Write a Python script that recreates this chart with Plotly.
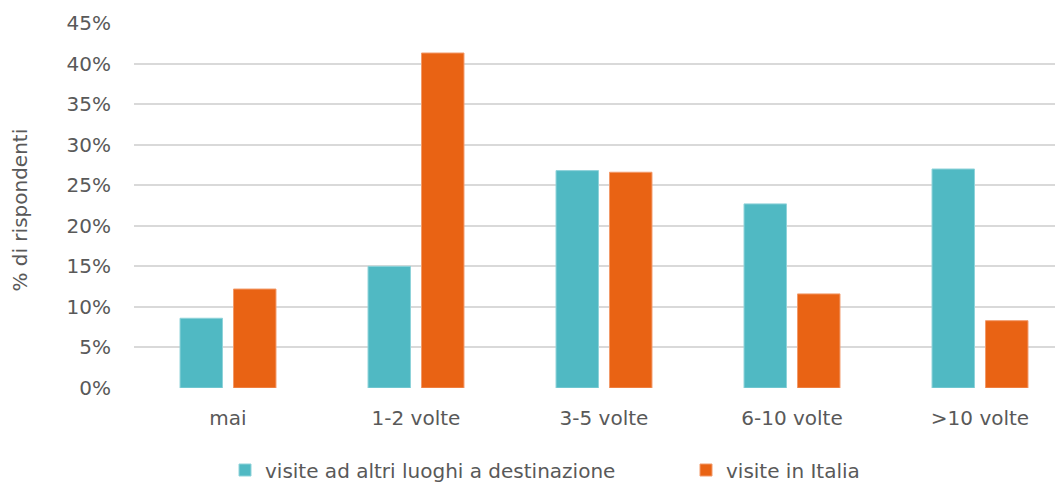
import plotly.graph_objects as go

categories = ["mai", "1-2 volte", "3-5 volte", "6-10 volte", ">10 volte"]
altri_luoghi = [8.6, 15.0, 26.8, 22.7, 27.0]
italia = [12.2, 41.3, 26.6, 11.6, 8.3]
series_names = ["visite ad altri luoghi a destinazione", "visite in Italia"]
y_ticks = [0, 5, 10, 15, 20, 25, 30, 35, 40, 45]
y_tick_labels = [f"{v}%" for v in y_ticks]

FONT = "DejaVu Sans"
TXT = "#595959"
FS = 20

fig = go.Figure()
fig.add_trace(go.Bar(x=categories, y=altri_luoghi, name=series_names[0], legend="legend",
                     marker=dict(color="#50B9C3", line=dict(color="#8FD3DA", width=1))))
fig.add_trace(go.Bar(x=categories, y=italia, name=series_names[1], legend="legend2",
                     marker=dict(color="#E96314", line=dict(color="#F29A6A", width=1))))

leg_common = dict(orientation="h", yref="container", xref="container", y=1 - 462 / 482,
                  xanchor="left", yanchor="middle", font=dict(size=FS, color=TXT),
                  bgcolor="rgba(0,0,0,0)", borderwidth=0)

fig.update_layout(
    width=1063, height=482,
    margin=dict(l=126, r=0, t=15, b=102, autoexpand=False),
    paper_bgcolor="white", plot_bgcolor="white",
    font=dict(family=FONT, color=TXT, size=FS),
    barmode="group", bargap=0.431, bargroupgap=0.206,
    showlegend=True,
    legend=dict(x=217 / 1063, **leg_common),
    legend2=dict(x=678 / 1063, **leg_common),
    xaxis=dict(range=[-0.5, 4.484], showgrid=False, showline=False, ticks="",
               automargin=False,
               ticklabelstandoff=16, tickfont=dict(size=FS, color=TXT)),
    yaxis=dict(range=[0, 45], tickvals=y_ticks, ticktext=y_tick_labels,
               showgrid=True, gridcolor="#D9D9D9", gridwidth=1.5, zeroline=False,
               showline=False, ticks="", ticklabelstandoff=22, automargin=False,
               tickfont=dict(size=FS, color=TXT)),
)
fig.add_annotation(text="% di rispondenti", xref="paper", yref="paper",
                   x=-114 / 937, y=0.486, textangle=-90, showarrow=False,
                   xanchor="center", yanchor="middle", font=dict(size=FS, color=TXT))

fig.write_html("out.html")
